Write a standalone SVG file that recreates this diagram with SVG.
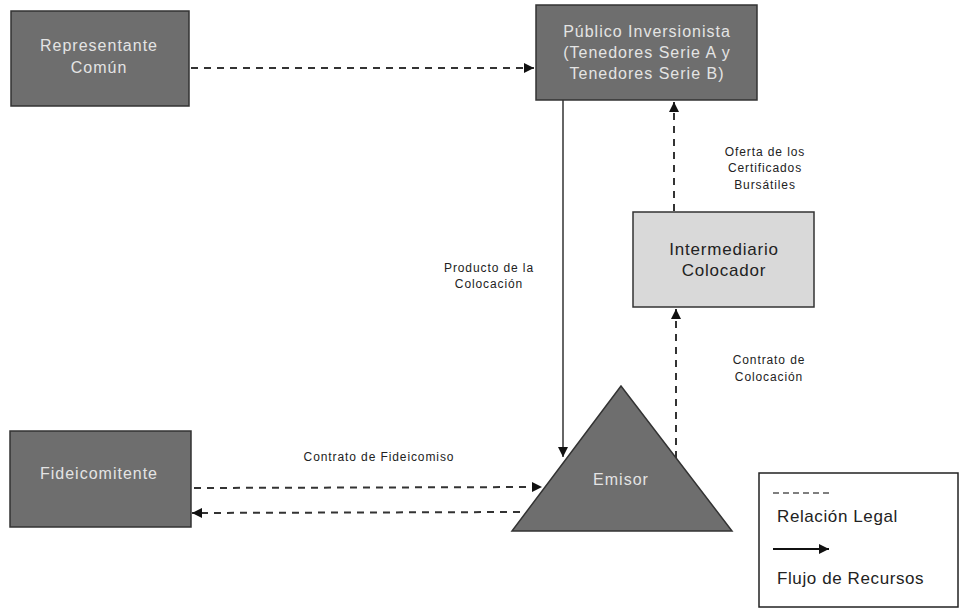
<svg xmlns="http://www.w3.org/2000/svg" width="961" height="609" viewBox="0 0 961 609">
<defs>
<marker id="ah" viewBox="0 0 10 10" refX="10" refY="5" markerWidth="10" markerHeight="10" markerUnits="userSpaceOnUse" orient="auto"><path d="M0,0 L10,5 L0,10 z" fill="#111"/></marker>
</defs>
<style>
.dark{fill:#6e6e6e;stroke:#333;stroke-width:1.5}
.light{fill:#d9d9d9;stroke:#333;stroke-width:1.5}
.wt{font-family:"Liberation Sans",Arial,sans-serif;font-size:16px;letter-spacing:1px;fill:#e4e4e4;text-anchor:middle}
.bt{font-family:"Liberation Sans",Arial,sans-serif;font-size:17px;letter-spacing:0.8px;fill:#222;text-anchor:middle}
.lb{font-family:"Liberation Sans",Arial,sans-serif;font-size:12px;letter-spacing:0.9px;fill:#222;text-anchor:middle}
.lg{font-family:"Liberation Sans",Arial,sans-serif;font-size:17px;letter-spacing:0.6px;fill:#222}
.dash{fill:none;stroke:#333;stroke-width:2;stroke-dasharray:7,6}
.solid{fill:none;stroke:#333;stroke-width:1.5}
</style>
<rect width="961" height="609" fill="#fff"/>
<g id="representante">
<rect class="dark" x="11" y="11" width="178" height="95"/>
<text class="wt" x="99" y="51">Representante</text>
<text class="wt" x="99" y="73">Común</text>
</g>
<g id="publico">
<rect class="dark" x="536" y="5" width="221" height="95"/>
<text class="wt" x="647" y="37">Público Inversionista</text>
<text class="wt" x="647" y="58">(Tenedores Serie A y</text>
<text class="wt" x="647" y="79">Tenedores Serie B)</text>
</g>
<g id="intermediario">
<rect class="light" x="633" y="212" width="181" height="95"/>
<text class="bt" x="724" y="255">Intermediario</text>
<text class="bt" x="724" y="276">Colocador</text>
</g>
<g id="emisor">
<polygon class="dark" points="621,386 512,531 732,531"/>
<text class="wt" x="621" y="485">Emisor</text>
</g>
<g id="fideicomitente">
<rect class="dark" x="10" y="431" width="181" height="96"/>
<text class="wt" x="99" y="479">Fideicomitente</text>
</g>
<g id="connectors">
<line class="dash" x1="191" y1="68" x2="534" y2="68" marker-end="url(#ah)"/>
<line class="solid" x1="563" y1="100" x2="563" y2="457" marker-end="url(#ah)"/>
<line class="dash" x1="674" y1="211" x2="674" y2="102" marker-end="url(#ah)"/>
<line class="dash" x1="676" y1="458" x2="676" y2="309" marker-end="url(#ah)"/>
<line class="dash" x1="194" y1="488" x2="542" y2="487" marker-end="url(#ah)"/>
<line class="dash" x1="520" y1="512" x2="192" y2="513" marker-end="url(#ah)"/>
</g>
<g id="labels">
<text class="lb" x="765" y="156">Oferta de los</text>
<text class="lb" x="765" y="172">Certificados</text>
<text class="lb" x="765" y="189">Bursátiles</text>
<text class="lb" x="489" y="272">Producto de la</text>
<text class="lb" x="489" y="288">Colocación</text>
<text class="lb" x="769" y="364">Contrato de</text>
<text class="lb" x="769" y="381">Colocación</text>
<text class="lb" x="379" y="461">Contrato de Fideicomiso</text>
</g>
<g id="legend">
<rect x="759" y="473" width="199" height="134" fill="#fff" stroke="#222" stroke-width="1.5"/>
<line x1="773" y1="493" x2="829" y2="493" stroke="#555" stroke-width="1.5" stroke-dasharray="6,4"/>
<text class="lg" x="777" y="522">Relación Legal</text>
<line x1="773" y1="549" x2="829" y2="549" stroke="#111" stroke-width="2" marker-end="url(#ah)"/>
<text class="lg" x="777" y="584">Flujo de Recursos</text>
</g>
</svg>
